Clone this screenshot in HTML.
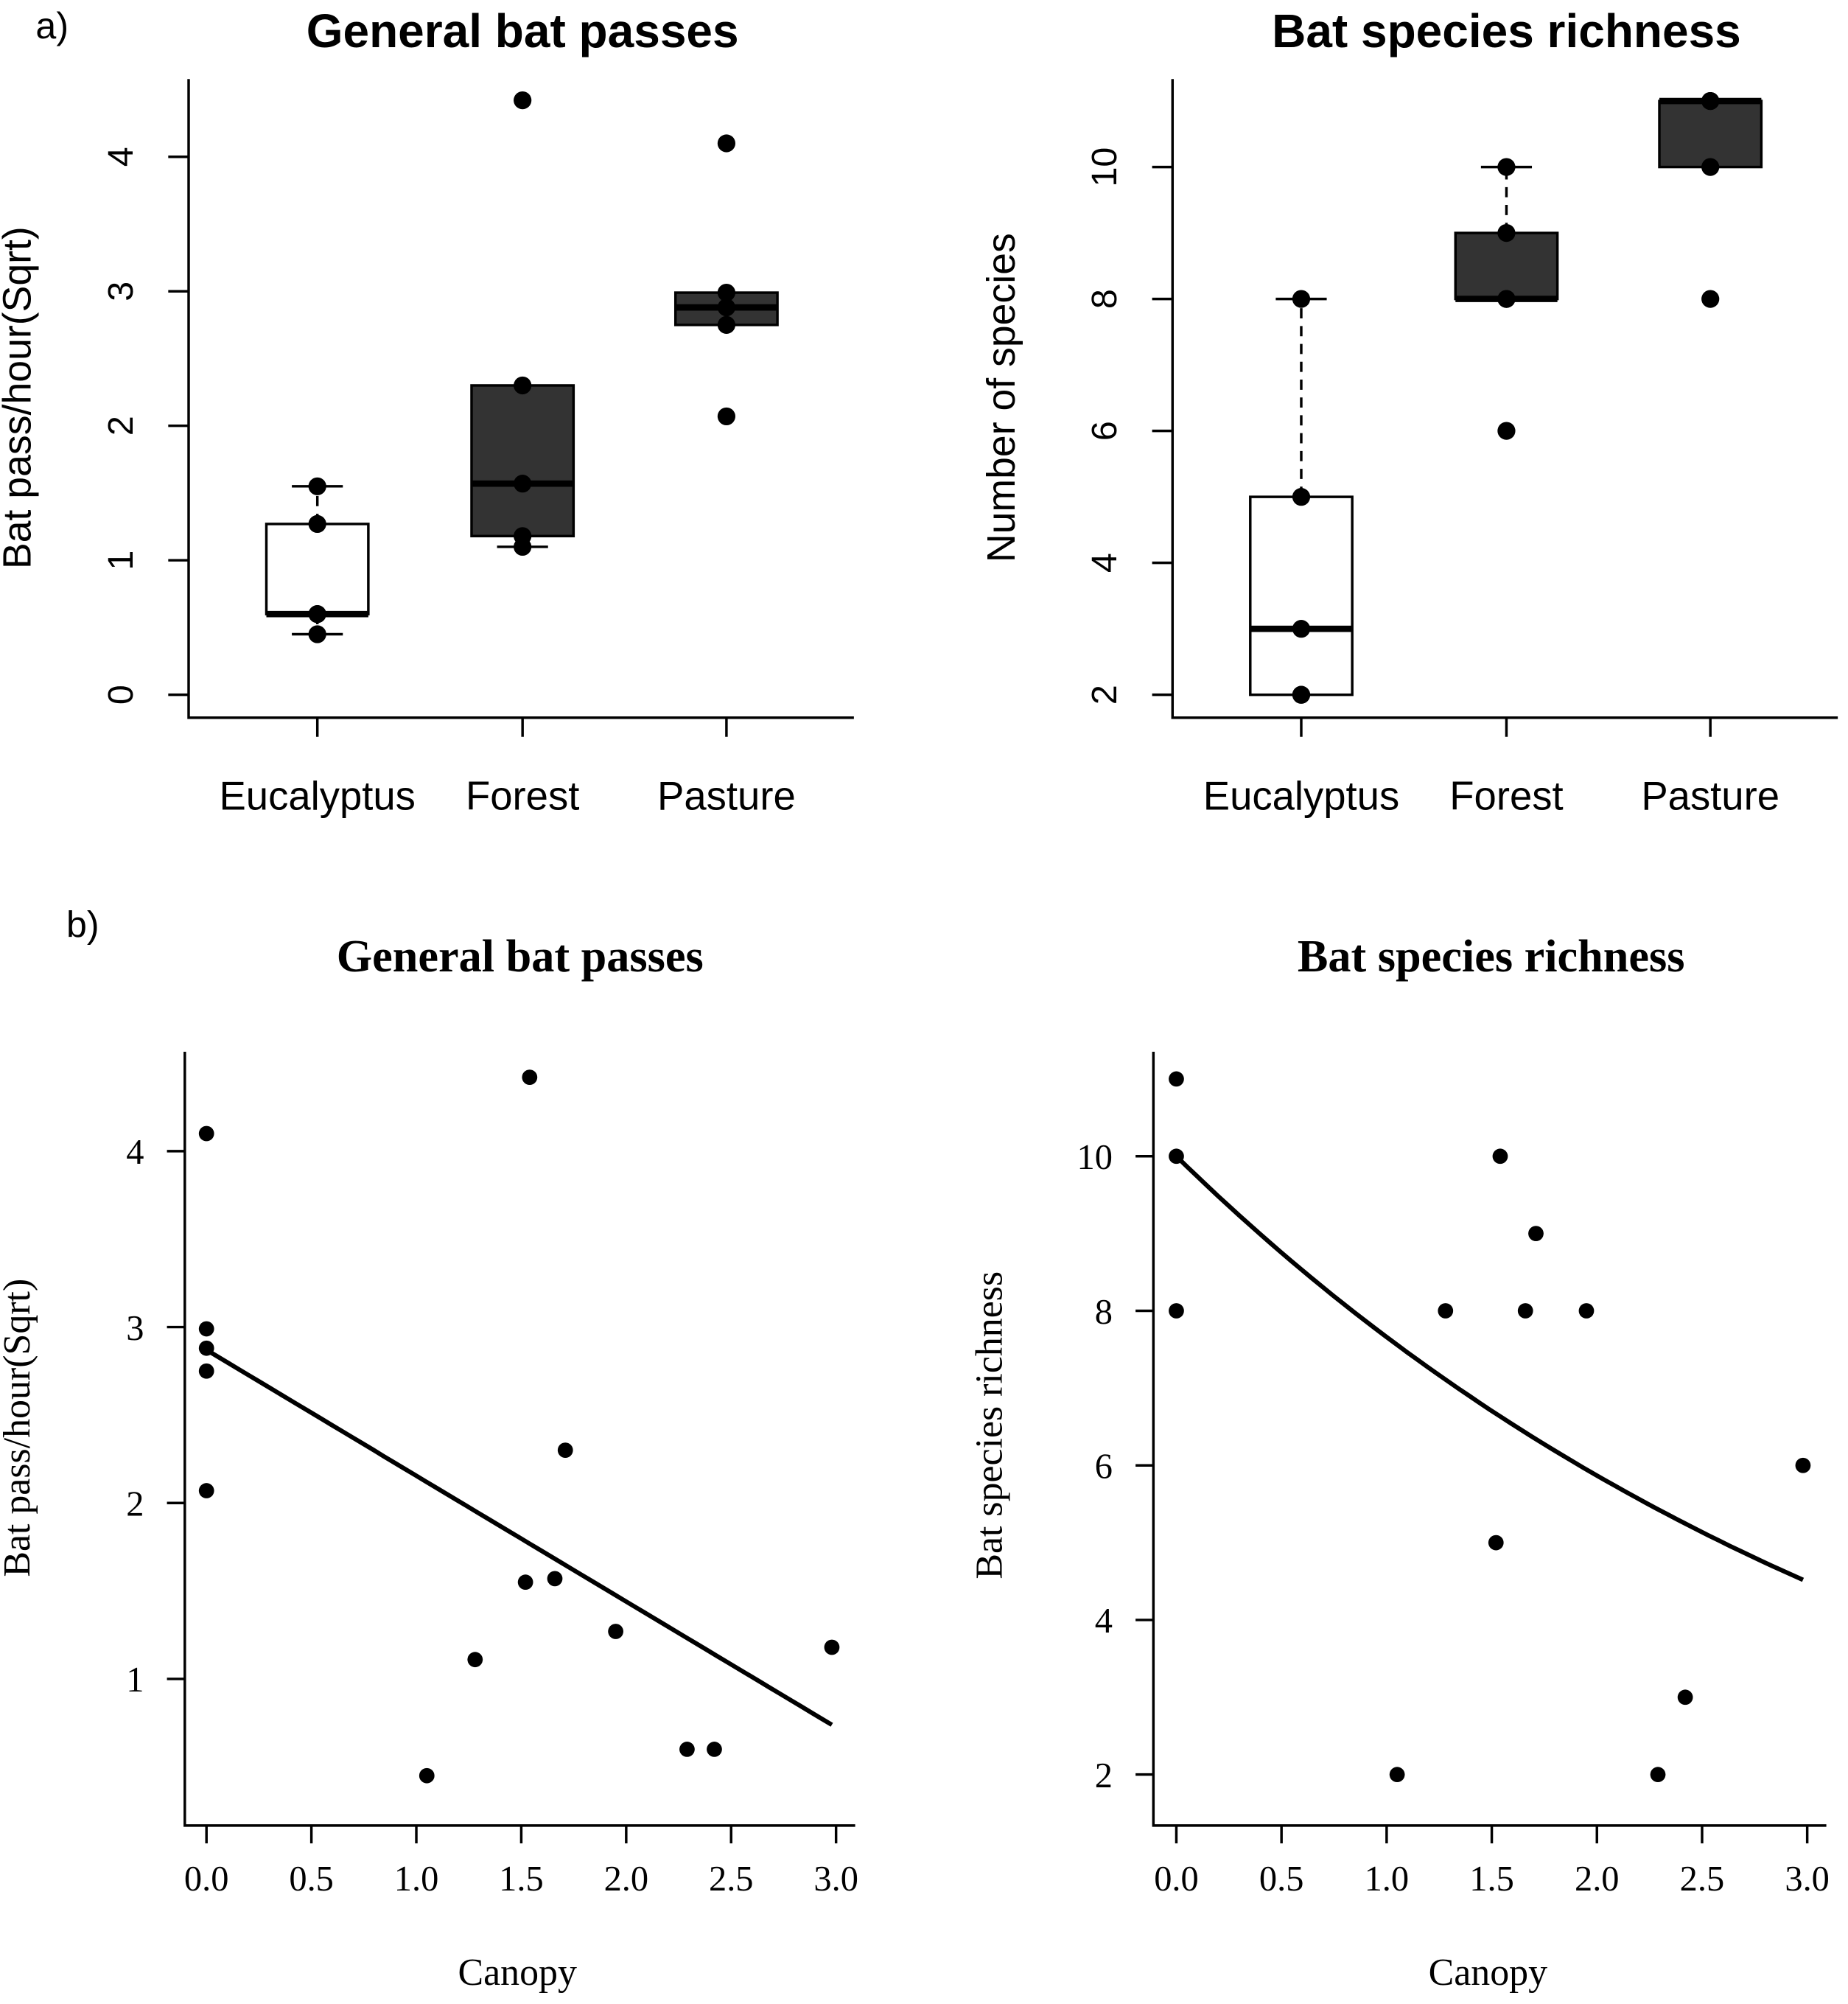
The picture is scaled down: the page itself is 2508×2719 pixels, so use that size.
<!DOCTYPE html>
<html><head><meta charset="utf-8"><style>
html,body{margin:0;padding:0;background:#fff;}
svg{display:block;}
.sans{font-family:"Liberation Sans",sans-serif;}
.serif{font-family:"Liberation Serif",serif;}
</style></head><body>
<svg id="chart" width="2508" height="2719" viewBox="0 0 1450 1572" xmlns="http://www.w3.org/2000/svg">
<rect width="1450" height="1572" fill="#fff"/>
<g id="root"></g>
</svg>
<script>
// ---- Data ----
const groups = ["Eucalyptus", "Forest", "Pasture"];
const passPoints = [[0.45, 0.6, 0.6, 1.27, 1.55], [1.1, 1.18, 1.57, 2.3, 4.42], [2.07, 2.75, 2.88, 2.99, 4.1]];
const passBoxes = [[0.45, 0.6, 0.6, 1.27, 1.55], [1.1, 1.18, 1.57, 2.3, 2.3], [2.75, 2.75, 2.88, 2.99, 2.99]];
const passFill = ["#ffffff", "#333333", "#333333"];
const richPoints = [[2, 2, 3, 5, 8], [6, 8, 8, 9, 10], [8, 10, 11, 11, 11]];
const richBoxes = [[2, 2, 3, 5, 8], [8, 8, 8, 9, 10], [10, 10, 11, 11, 11]];
const richFill = ["#ffffff", "#333333", "#333333"];
const passTicks = [0, 1, 2, 3, 4];
const richTicks = [2, 4, 6, 8, 10];
const canopyTicks = [0, 0.5, 1, 1.5, 2, 2.5, 3];
const canopyTickLabels = ["0.0", "0.5", "1.0", "1.5", "2.0", "2.5", "3.0"];
const scPassCanopy = [0, 0, 0, 0, 0, 1.54, 1.71, 1.52, 1.66, 1.95, 1.28, 1.05, 2.29, 2.42, 2.98];
const scPassValue = [4.1, 2.99, 2.88, 2.75, 2.07, 4.42, 2.3, 1.55, 1.57, 1.27, 1.11, 0.45, 0.6, 0.6, 1.18];
const scRichCanopy = [0, 0, 0, 1.54, 1.71, 1.28, 1.66, 1.95, 1.52, 2.98, 2.42, 1.05, 2.29];
const scRichValue = [11, 10, 8, 10, 9, 8, 8, 8, 5, 6, 3, 2, 2];
const passFit = [2.87, -0.715];   // intercept, slope (linear)
const richFit = [10, -0.2665];     // a, b for a*exp(b*x)
const fitRange = [0, 2.98];

const NS = "http://www.w3.org/2000/svg";
const root = document.getElementById("root");
function mk(tag, attrs, parent, text) {
  const e = document.createElementNS(NS, tag);
  for (const k in attrs) e.setAttribute(k, attrs[k]);
  if (text !== undefined) e.textContent = text;
  (parent || root).appendChild(e);
  return e;
}
function lin(d0, d1, r0, r1) { return v => r0 + (v - d0) * (r1 - r0) / (d1 - d0); }

// ---------- Box panels ----------
function boxPanel(opt) {
  const g = mk("g", {});
  
  
  const y = lin(opt.t0, opt.t1, opt.py0, opt.py1);
  const xs = [opt.x0 + 101, opt.x0 + 262, opt.x0 + 422];
  const t = mk("text", {x: opt.x0 + 262, y: 37, "text-anchor": "middle", "font-size": 37, "font-weight": "bold", class: "sans"}, g, opt.title);
  
  
  const ax = mk("path", {d: `M${opt.x0} 62 V563 H${opt.x0 + 522}`, stroke: "#000", "stroke-width": 2, fill: "none"}, g);
  
  
  opt.ticks.forEach(v => {
    mk("line", {x1: opt.x0 - 16, x2: opt.x0, y1: y(v), y2: y(v), stroke: "#000", "stroke-width": 2}, g);
    const tl = mk("text", {x: 0, y: 0, transform: `translate(${opt.x0 - 44},${y(v)}) rotate(-90)`, "text-anchor": "middle", "font-size": 28, class: "sans"}, g, String(v));
    
    
  });
  const yl = mk("text", {transform: `translate(${opt.x0 - 124},312) rotate(-90)`, "text-anchor": "middle", "font-size": 31, class: "sans"}, g, opt.ylab);
  
  
  groups.forEach((gname, i) => {
    const cx = xs[i];
    mk("line", {x1: cx, x2: cx, y1: 563, y2: 578, stroke: "#000", "stroke-width": 2}, g);
    const xl = mk("text", {x: cx, y: 635, "text-anchor": "middle", "font-size": 31.5, class: "sans"}, g, gname);
    
    
    const b = opt.boxes[i];
    const bg = mk("g", {}, g);
    
    
    if (b[4] > b[3]) {
      mk("line", {x1: cx, x2: cx, y1: y(b[3]), y2: y(b[4]), stroke: "#000", "stroke-width": 2, "stroke-dasharray": "8,6"}, bg);
      mk("line", {x1: cx - 20, x2: cx + 20, y1: y(b[4]), y2: y(b[4]), stroke: "#000", "stroke-width": 2}, bg);
    }
    if (b[1] > b[0]) {
      mk("line", {x1: cx, x2: cx, y1: y(b[1]), y2: y(b[0]), stroke: "#000", "stroke-width": 2, "stroke-dasharray": "8,6"}, bg);
      mk("line", {x1: cx - 20, x2: cx + 20, y1: y(b[0]), y2: y(b[0]), stroke: "#000", "stroke-width": 2}, bg);
    }
    mk("rect", {x: cx - 40, y: y(b[3]), width: 80, height: y(b[1]) - y(b[3]), fill: opt.fill[i], stroke: "#000", "stroke-width": 2}, bg);
    mk("line", {x1: cx - 40, x2: cx + 40, y1: y(b[2]), y2: y(b[2]), stroke: "#000", "stroke-width": 5}, bg);
    opt.points[i].forEach(v => {
      const p = mk("circle", {cx: cx, cy: y(v), r: 7, fill: "#000"}, g);
      
      
    });
  });
}
boxPanel({name: "panel-a-passes", x0: 148, title: "General bat passes", ylab: "Bat pass/hour(Sqrt)", t0: 0, t1: 4, py0: 545, py1: 123, ticks: passTicks, boxes: passBoxes, points: passPoints, fill: passFill});
boxPanel({name: "panel-a-richness", x0: 920, title: "Bat species richness", ylab: "Number of species", t0: 2, t1: 10, py0: 545, py1: 131, ticks: richTicks, boxes: richBoxes, points: richPoints, fill: richFill});

// ---------- Scatter panels ----------
function scatterPanel(opt) {
  const g = mk("g", {});
  
  
  const x = lin(0, 3, opt.px0, opt.px1);
  const y = lin(opt.t0, opt.t1, opt.py0, opt.py1);
  const t = mk("text", {x: opt.tx, y: 762, "text-anchor": "middle", "font-size": 36, "font-weight": "bold", class: "serif"}, g, opt.title);
  
  
  const ax = mk("path", {d: `M${opt.ax} 825 V1432 H${opt.px1 + 15}`, stroke: "#000", "stroke-width": 2, fill: "none"}, g);
  
  
  opt.ticks.forEach(v => {
    mk("line", {x1: opt.ax - 14, x2: opt.ax, y1: y(v), y2: y(v), stroke: "#000", "stroke-width": 2}, g);
    const tl = mk("text", {x: opt.ax - 32, y: y(v) + 10, "text-anchor": "end", "font-size": 28, class: "serif"}, g, String(v));
    
    
  });
  canopyTicks.forEach((v, i) => {
    mk("line", {x1: x(v), x2: x(v), y1: 1432, y2: 1446, stroke: "#000", "stroke-width": 2}, g);
    const xl = mk("text", {x: x(v), y: 1483, "text-anchor": "middle", "font-size": 28, class: "serif"}, g, canopyTickLabels[i]);
    
    
  });
  const xt = mk("text", {x: (opt.px0 + opt.px1) / 2 - 3, y: 1557, "text-anchor": "middle", "font-size": 30, class: "serif"}, g, "Canopy");
  
  
  const yl = mk("text", {transform: `translate(${opt.ylx},${opt.yly}) rotate(-90)`, "text-anchor": "middle", "font-size": 30, class: "serif"}, g, opt.ylab);
  
  
  let d = "";
  for (let k = 0; k <= 60; k++) {
    const cv = fitRange[0] + (fitRange[1] - fitRange[0]) * k / 60;
    d += (k ? "L" : "M") + x(cv).toFixed(1) + " " + y(opt.fit(cv)).toFixed(1);
  }
  const fl = mk("path", {d: d, stroke: "#000", "stroke-width": 3.5, fill: "none"}, g);
  
  
  opt.xs.forEach((cv, i) => {
    const p = mk("circle", {cx: x(cv), cy: y(opt.ys[i]), r: 6, fill: "#000"}, g);
    
    
  });
}
scatterPanel({name: "panel-b-passes", ax: 145, px0: 162, px1: 656, t0: 1, t1: 4, py0: 1317, py1: 903, ticks: [1, 2, 3, 4], title: "General bat passes", tx: 408, ylab: "Bat pass/hour(Sqrt)", ylx: 23, yly: 1120, xs: scPassCanopy, ys: scPassValue, fit: c => passFit[0] + passFit[1] * c});
scatterPanel({name: "panel-b-richness", ax: 905, px0: 923, px1: 1418, t0: 2, t1: 10, py0: 1392, py1: 907, ticks: [2, 4, 6, 8, 10], title: "Bat species richness", tx: 1170, ylab: "Bat species richness", ylx: 786, yly: 1118, xs: scRichCanopy, ys: scRichValue, fit: c => richFit[0] * Math.exp(richFit[1] * c)});

const la = mk("text", {x: 28, y: 30, "font-size": 29, class: "sans"}, root, "a)");


const lb = mk("text", {x: 52, y: 735, "font-size": 29, class: "sans"}, root, "b)");


</script>
</body></html>
